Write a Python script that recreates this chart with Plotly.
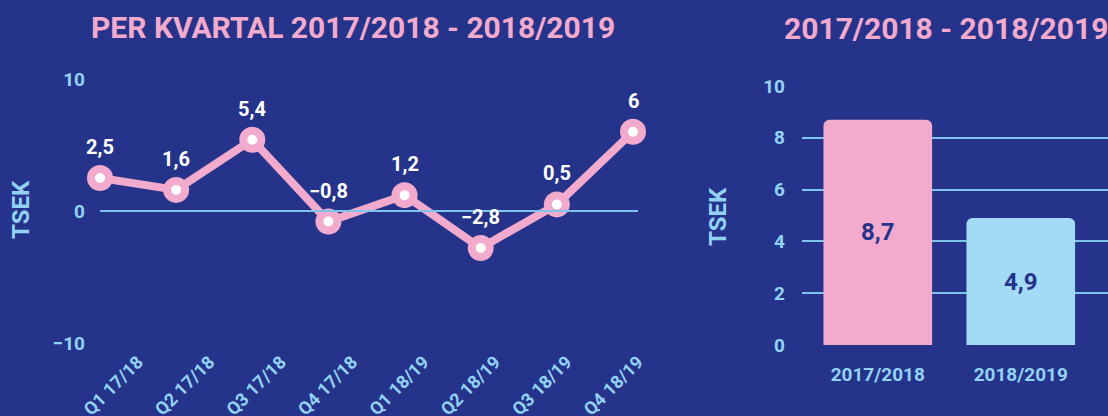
import plotly.graph_objects as go

# ---- data ----
quarters = ["Q1 17/18", "Q2 17/18", "Q3 17/18", "Q4 17/18",
            "Q1 18/19", "Q2 18/19", "Q3 18/19", "Q4 18/19"]
quarter_values = [2.5, 1.6, 5.4, -0.8, 1.2, -2.8, 0.5, 6.0]
quarter_labels = ["2,5", "1,6", "5,4", "\u22120,8", "1,2", "\u22122,8", "0,5", "6"]

years = ["2017/2018", "2018/2019"]
year_values = [8.7, 4.9]
year_labels = ["8,7", "4,9"]

left_yticks = [-10, 0, 10]
left_yticktext = ["\u221210", "0", "10"]
right_yticks = [0, 2, 4, 6, 8, 10]

# ---- styles ----
BG = "#25348A"
PINK = "#F2AACD"
LIGHT = "#A3DBF7"
TICK = "#92D2F5"
GRID = "#7EC3EC"
FONT = "Roboto, sans-serif"
W, H = 1108, 416

fig = go.Figure()

fig.add_trace(go.Scatter(
    x=list(range(len(quarters))), y=quarter_values,
    mode="lines+markers",
    line=dict(color=PINK, width=8),
    marker=dict(size=18, color="white", line=dict(color=PINK, width=8)),
    cliponaxis=False, hoverinfo="skip",
    xaxis="x", yaxis="y",
))

# invisible carrier for the quarter labels axis (labels sit on their own axis)
fig.add_trace(go.Scatter(
    x=quarters, y=quarter_values, mode="markers",
    marker=dict(opacity=0), hoverinfo="skip",
    xaxis="x3", yaxis="y",
))

for i, (v, t) in enumerate(zip(quarter_values, quarter_labels)):
    fig.add_annotation(x=i, y=v, xref="x", yref="y", text=t, showarrow=False,
                       yshift=31, font=dict(family=FONT, size=20, color="white", weight="bold"))

fig.add_trace(go.Bar(
    x=[0, 1], y=year_values,
    marker=dict(color=[PINK, LIGHT], cornerradius=6, line=dict(width=0)),
    text=year_labels, textposition="inside", insidetextanchor="middle",
    textfont=dict(family=FONT, size=24, color=BG, weight="bold"),
    width=0.76, hoverinfo="skip",
    xaxis="x2", yaxis="y2",
))

tickfont = dict(family=FONT, size=19, color=TICK, weight="bold")

fig.update_layout(
    width=W, height=H,
    paper_bgcolor=BG, plot_bgcolor="rgba(0,0,0,0)",
    margin=dict(l=0, r=0, t=0, b=0, autoexpand=False),
    showlegend=False,
    xaxis=dict(domain=[100 / W, 633 / W], range=[0, 7], automargin=False,
               showticklabels=False,
               showgrid=False, zeroline=False, showline=False, ticks=""),
    xaxis3=dict(domain=[138 / W, 638 / W], range=[0, 7], anchor="y", automargin=False,
                type="category", categoryorder="array", categoryarray=quarters,
                tickangle=-45, tickfont=dict(family=FONT, size=18, color=TICK, weight="bold"),
                showgrid=False, zeroline=False, showline=False, ticks="",
                ticklabelstandoff=4),
    yaxis=dict(domain=[1 - 343 / H, 1 - 79 / H], range=[-10, 10], automargin=False,
               tickvals=left_yticks, ticktext=left_yticktext, tickfont=tickfont,
               showgrid=True, gridcolor=GRID, gridwidth=1.5, zeroline=False,
               ticklabelstandoff=14, ticks=""),
    xaxis2=dict(domain=[802 / W, 1.0], range=[-0.53, 1.61], anchor="y2", automargin=False,
                tickvals=[0, 1], ticktext=years, tickfont=tickfont,
                showgrid=False, zeroline=False, showline=False, ticks="",
                ticklabelstandoff=16),
    yaxis2=dict(domain=[1 - 345 / H, 1 - 86 / H], range=[0, 10], anchor="x2", automargin=False,
                tickvals=right_yticks, tickfont=tickfont,
                showgrid=True, gridcolor=GRID, gridwidth=1.5, zeroline=False,
                ticklabelstandoff=16, ticks=""),
)

titlefont = dict(family=FONT, size=30, color=PINK, weight="bold")
fig.add_annotation(x=353 / W, y=1 - 28 / H, xref="paper", yref="paper",
                   text="PER KVARTAL 2017/2018 - 2018/2019", showarrow=False,
                   font=titlefont, xanchor="center", yanchor="middle")
fig.add_annotation(x=946 / W, y=1 - 29 / H, xref="paper", yref="paper",
                   text="2017/2018 - 2018/2019", showarrow=False,
                   font=titlefont, xanchor="center", yanchor="middle")

axtitle = dict(family=FONT, size=24, color=TICK, weight="bold")
fig.add_annotation(x=21 / W, y=1 - 210 / H, xref="paper", yref="paper",
                   text="TSEK", textangle=-90, showarrow=False, font=axtitle,
                   xanchor="center", yanchor="middle")
fig.add_annotation(x=718 / W, y=1 - 217 / H, xref="paper", yref="paper",
                   text="TSEK", textangle=-90, showarrow=False, font=axtitle,
                   xanchor="center", yanchor="middle")

fig.write_html("out.html", config={"displayModeBar": False},
               post_script="document.body.style.margin='0';document.body.style.background='#25348A';")
